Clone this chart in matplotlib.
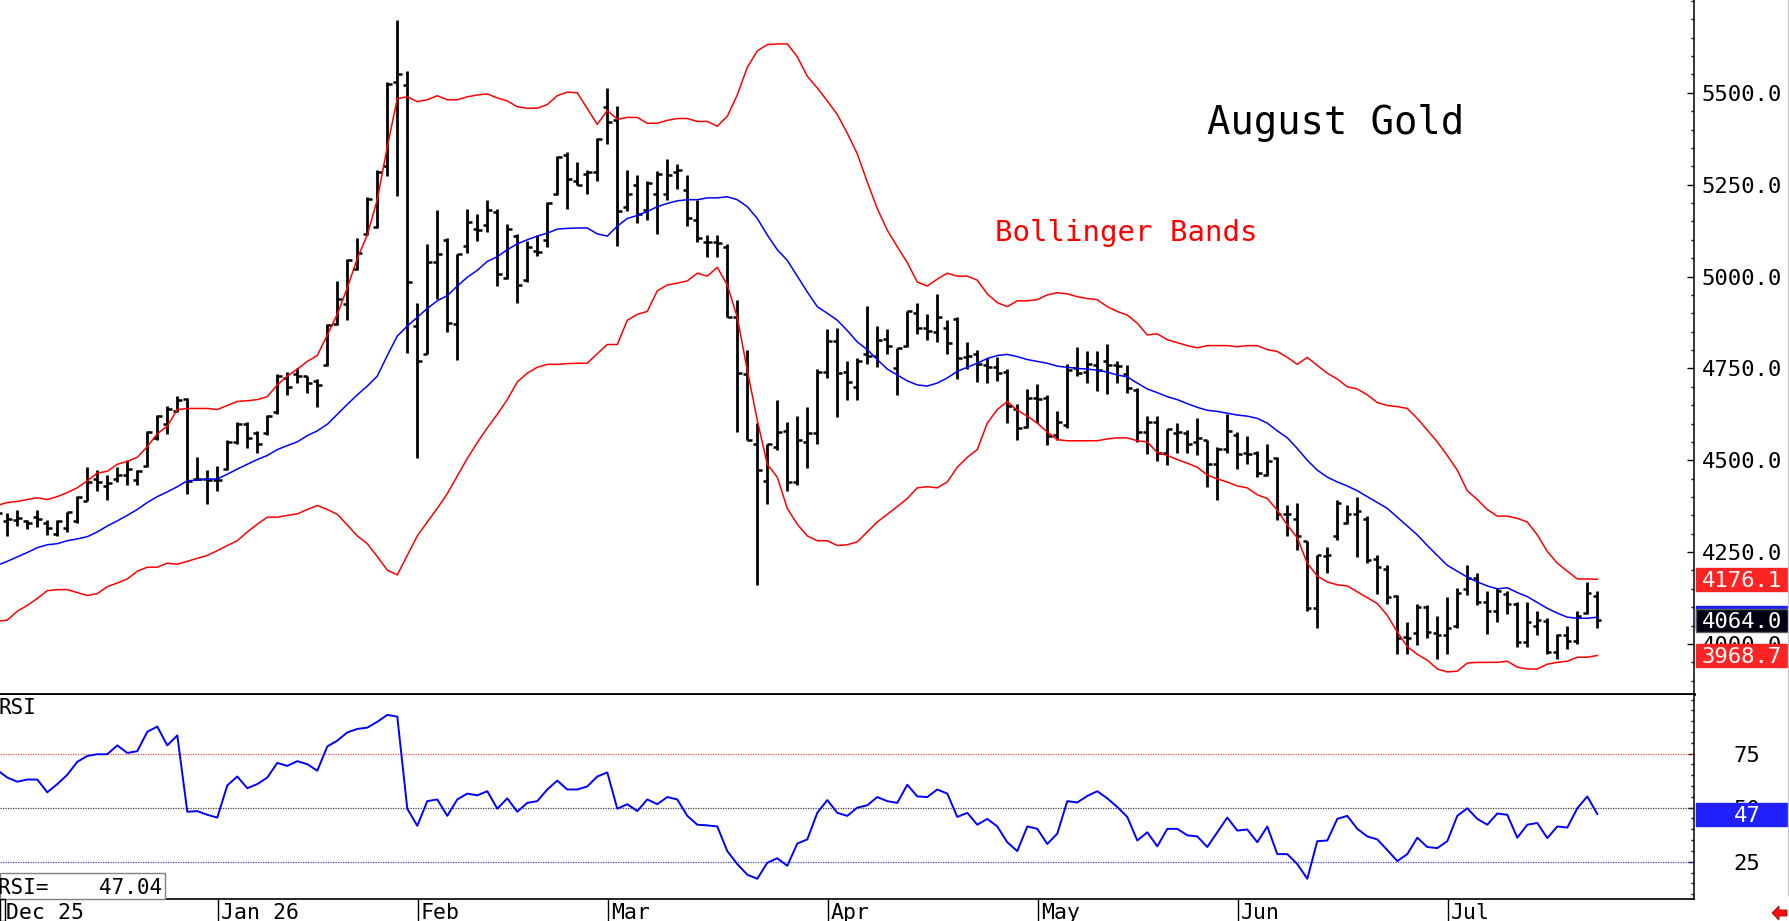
import matplotlib
matplotlib.use('Agg')
import matplotlib.pyplot as plt
from matplotlib.patches import Rectangle, Polygon
from matplotlib.lines import Line2D
from matplotlib.ticker import FixedLocator, MultipleLocator, FormatStrFormatter
from matplotlib.transforms import blended_transform_factory
import numpy as np

plt.rcParams['font.family'] = ['DejaVu Sans Mono', 'DejaVu Sans']

# daily bars, Dec 1 2025 .. late July 2026 (August gold futures)
opens = [4345, 4335, 4338, 4335, 4345, 4330, 4300, 4315, 4335, 4390,
         4450, 4430, 4450, 4460, 4445, 4485, 4560, 4600, 4634, 4668,
         4449, 4450, 4445, 4475, 4550, 4600, 4575, 4575, 4630, 4725,
         4735, 4730, 4715, 4760, 4870, 4925, 5020, 5115, 5135, 5300,
         5530, 5520, 4865, 4790, 5040, 5100, 4870, 5084, 5130, 5140,
         5175, 4995, 5110, 4990, 5070, 5100, 5225, 5330, 5260, 5280,
         5285, 5460, 5425, 5190, 5250, 5180, 5225, 5225, 5285, 5235,
         5155, 5095, 5095, 5080, 4890, 4735, 4545, 4444, 4537, 4580,
         4440, 4550, 4575, 4740, 4825, 4740, 4700, 4790, 4785, 4830,
         4750, 4810, 4900, 4860, 4850, 4860, 4885, 4780, 4790, 4760,
         4755, 4740, 4640, 4590, 4670, 4670, 4570, 4595, 4750, 4740,
         4760, 4770, 4760, 4735, 4690, 4577, 4605, 4520, 4575, 4575,
         4550, 4555, 4489, 4530, 4570, 4520, 4520, 4460, 4505, 4355,
         4340, 4280, 4097, 4240, 4295, 4330, 4355, 4340, 4230, 4205,
         4130, 4020, 4030, 4100, 4030, 4025, 4050, 4150, 4180, 4113,
         4090, 4137, 4110, 4005, 4050, 4062, 3977, 4025, 4009, 4085,
         4130]
highs = [4375, 4356, 4365, 4337, 4364, 4337, 4337, 4360, 4404, 4481,
         4473, 4460, 4481, 4500, 4473, 4580, 4623, 4649, 4676, 4670,
         4510, 4473, 4484, 4556, 4604, 4604, 4580, 4623, 4734, 4740,
         4750, 4730, 4720, 4870, 4988, 5049, 5105, 5217, 5289, 5529,
         5697, 5558, 4929, 5089, 5182, 5105, 5062, 5185, 5169, 5209,
         5185, 5142, 5116, 5097, 5113, 5204, 5329, 5340, 5313, 5289,
         5377, 5513, 5465, 5289, 5276, 5260, 5286, 5321, 5305, 5276,
         5209, 5113, 5113, 5089, 4937, 4801, 4601, 4545, 4665, 4604,
         4620, 4646, 4748, 4857, 4860, 4769, 4777, 4921, 4865, 4857,
         4806, 4905, 4929, 4897, 4953, 4881, 4889, 4822, 4801, 4777,
         4782, 4748, 4652, 4694, 4708, 4678, 4633, 4761, 4809, 4796,
         4796, 4817, 4769, 4758, 4697, 4620, 4620, 4585, 4601, 4582,
         4614, 4556, 4537, 4625, 4577, 4566, 4524, 4545, 4508, 4377,
         4385, 4281, 4241, 4265, 4393, 4377, 4401, 4348, 4241, 4214,
         4134, 4060, 4108, 4105, 4076, 4129, 4153, 4214, 4193, 4145,
         4153, 4145, 4113, 4113, 4089, 4070, 4028, 4049, 4089, 4170,
         4145]
lows = [4330, 4294, 4320, 4313, 4318, 4297, 4294, 4305, 4330, 4388,
        4417, 4393, 4441, 4433, 4433, 4481, 4556, 4572, 4630, 4409,
        4446, 4382, 4417, 4473, 4545, 4534, 4521, 4569, 4625, 4678,
        4710, 4684, 4646, 4756, 4868, 4881, 5017, 5113, 5132, 5273,
        5220, 4793, 4505, 4788, 4940, 4849, 4772, 5065, 5097, 5121,
        4974, 4993, 4929, 4985, 5057, 5081, 5222, 5185, 5249, 5225,
        5260, 5361, 5084, 5177, 5145, 5153, 5116, 5209, 5238, 5137,
        5094, 5054, 5054, 4889, 4577, 4556, 4161, 4380, 4529, 4417,
        4433, 4478, 4545, 4724, 4617, 4665, 4665, 4761, 4753, 4788,
        4678, 4809, 4844, 4828, 4822, 4790, 4721, 4748, 4713, 4710,
        4716, 4601, 4556, 4588, 4601, 4542, 4556, 4588, 4729, 4710,
        4689, 4681, 4710, 4684, 4550, 4518, 4497, 4486, 4521, 4521,
        4513, 4428, 4393, 4521, 4476, 4489, 4454, 4457, 4337, 4294,
        4257, 4089, 4044, 4193, 4284, 4326, 4236, 4220, 4137, 4108,
        3974, 3974, 3996, 4017, 3958, 3974, 4044, 4134, 4105, 4028,
        4060, 4081, 3993, 3993, 4025, 3974, 3958, 3985, 4001, 4081,
        4044]
closes = [4356, 4340, 4342, 4330, 4340, 4315, 4335, 4358, 4400, 4440,
          4440, 4438, 4460, 4475, 4470, 4578, 4620, 4640, 4665, 4444,
          4450, 4445, 4446, 4550, 4600, 4560, 4545, 4620, 4730, 4700,
          4730, 4710, 4705, 4868, 4940, 5045, 5065, 5210, 5285, 5525,
          5550, 4985, 4770, 5040, 5060, 4873, 5060, 5148, 5126, 5180,
          5008, 5130, 4977, 5080, 5068, 5200, 5325, 5265, 5250, 5285,
          5375, 5420, 5177, 5225, 5170, 5255, 5280, 5275, 5290, 5160,
          5105, 5095, 5090, 4890, 4737, 4556, 4473, 4545, 4577, 4440,
          4556, 4575, 4740, 4825, 4737, 4713, 4770, 4785, 4828, 4810,
          4805, 4905, 4860, 4852, 4890, 4820, 4777, 4785, 4761, 4755,
          4737, 4649, 4588, 4670, 4668, 4566, 4604, 4745, 4737, 4761,
          4745, 4760, 4757, 4697, 4577, 4604, 4520, 4585, 4577, 4545,
          4560, 4489, 4530, 4580, 4518, 4518, 4465, 4497, 4353, 4353,
          4295, 4097, 4241, 4241, 4385, 4353, 4361, 4229, 4209, 4129,
          4017, 4017, 4100, 4033, 4025, 4044, 4140, 4180, 4113, 4089,
          4145, 4110, 4006, 4060, 4065, 3977, 4025, 4009, 4076, 4140,
          4064.0]

# Bollinger bands as printed on the chart
upper = [4377, 4385, 4388, 4393, 4398, 4393, 4401, 4412, 4425, 4444,
         4465, 4470, 4489, 4497, 4508, 4537, 4572, 4593, 4638, 4641,
         4641, 4641, 4638, 4649, 4660, 4662, 4665, 4673, 4705, 4729,
         4748, 4769, 4785, 4841, 4897, 4969, 5049, 5113, 5209, 5353,
         5484, 5489, 5476, 5481, 5492, 5481, 5481, 5489, 5494, 5497,
         5486, 5478, 5462, 5458, 5458, 5468, 5492, 5502, 5500, 5457,
         5414, 5452, 5428, 5433, 5433, 5417, 5417, 5425, 5430, 5430,
         5422, 5422, 5409, 5436, 5494, 5569, 5614, 5631, 5633, 5633,
         5598, 5545, 5513, 5478, 5441, 5390, 5334, 5257, 5185, 5126,
         5081, 5038, 4985, 4974, 4993, 5009, 5001, 5001, 4990, 4953,
         4929, 4918, 4934, 4934, 4937, 4950, 4956, 4953, 4945, 4940,
         4937, 4918, 4905, 4895, 4873, 4841, 4844, 4828, 4820, 4812,
         4806, 4812, 4812, 4812, 4809, 4812, 4812, 4801, 4796, 4780,
         4761, 4780, 4758, 4737, 4721, 4700, 4694, 4678, 4657, 4649,
         4646, 4641, 4614, 4582, 4550, 4513, 4473, 4417, 4393, 4366,
         4348, 4348, 4342, 4332, 4297, 4252, 4220, 4198, 4177, 4177,
         4176.1]
middle = [4214, 4225, 4237, 4249, 4262, 4270, 4273, 4281, 4286, 4292,
          4305, 4321, 4335, 4350, 4366, 4385, 4401, 4414, 4428, 4444,
          4446, 4449, 4449, 4462, 4476, 4489, 4502, 4513, 4529, 4540,
          4550, 4567, 4580, 4598, 4625, 4652, 4678, 4702, 4729, 4785,
          4838, 4865, 4889, 4913, 4934, 4948, 4974, 4998, 5017, 5041,
          5054, 5073, 5089, 5100, 5110, 5118, 5129, 5131, 5132, 5132,
          5116, 5110, 5137, 5158, 5166, 5177, 5190, 5199, 5206, 5209,
          5209, 5214, 5214, 5217, 5209, 5190, 5158, 5113, 5073, 5044,
          5001, 4958, 4918, 4900, 4881, 4853, 4822, 4801, 4774, 4748,
          4732, 4716, 4705, 4702, 4710, 4724, 4742, 4753, 4764, 4777,
          4785, 4788, 4782, 4774, 4769, 4764, 4756, 4753, 4750, 4748,
          4745, 4740, 4732, 4727, 4710, 4694, 4684, 4673, 4665, 4654,
          4644, 4636, 4633, 4628, 4623, 4620, 4614, 4601, 4580, 4561,
          4532, 4500, 4473, 4454, 4441, 4430, 4417, 4401, 4385, 4369,
          4345, 4321, 4297, 4268, 4241, 4214, 4198, 4182, 4169, 4158,
          4150, 4153, 4140, 4129, 4113, 4097, 4084, 4073, 4070, 4070,
          4073]
lower = [4062, 4065, 4089, 4105, 4124, 4145, 4148, 4148, 4140, 4132,
         4137, 4156, 4166, 4177, 4198, 4209, 4209, 4220, 4217, 4225,
         4233, 4241, 4254, 4268, 4281, 4305, 4326, 4345, 4345, 4350,
         4354, 4366, 4377, 4366, 4353, 4324, 4294, 4273, 4238, 4201,
         4188, 4241, 4294, 4332, 4369, 4409, 4457, 4505, 4548, 4588,
         4625, 4665, 4713, 4737, 4753, 4761, 4761, 4763, 4764, 4764,
         4790, 4815, 4815, 4881, 4897, 4905, 4961, 4977, 4982, 4988,
         5009, 5001, 5025, 4977, 4889, 4745, 4609, 4489, 4454, 4369,
         4326, 4294, 4281, 4281, 4268, 4270, 4278, 4305, 4332, 4353,
         4374, 4396, 4425, 4428, 4425, 4441, 4481, 4508, 4529, 4601,
         4638, 4660, 4636, 4620, 4601, 4577, 4556, 4553, 4553, 4553,
         4553, 4558, 4561, 4561, 4553, 4550, 4521, 4513, 4502, 4492,
         4481, 4460, 4449, 4441, 4430, 4425, 4406, 4396, 4364, 4324,
         4289, 4220, 4185, 4169, 4161, 4158, 4142, 4126, 4110, 4078,
         4033, 3993, 3972, 3956, 3932, 3924, 3926, 3948, 3950, 3950,
         3950, 3953, 3937, 3932, 3932, 3945, 3950, 3953, 3964, 3964,
         3968.7]
rsi = [67.4, 63.9, 62.0, 63.0, 63.0, 57.1, 60.9, 65.2, 71.2, 73.9,
       74.7, 74.7, 78.8, 75.3, 76.1, 85.1, 87.5, 78.8, 83.4, 48.1,
       48.4, 46.7, 45.4, 60.3, 64.4, 59.0, 60.9, 63.9, 70.7, 69.3,
       71.5, 70.1, 67.1, 78.3, 81.0, 84.8, 86.4, 87.0, 89.7, 92.9,
       92.1, 49.5, 41.6, 53.0, 53.8, 46.2, 53.8, 56.5, 55.7, 57.6,
       49.5, 54.3, 48.1, 52.2, 53.0, 58.4, 62.5, 58.4, 58.4, 59.8,
       64.4, 66.3, 49.5, 51.6, 48.4, 53.8, 51.6, 54.9, 53.8, 46.2,
       42.1, 41.8, 41.3, 29.9, 23.9, 19.0, 17.1, 24.5, 26.6, 23.1,
       33.4, 35.3, 47.6, 53.5, 47.6, 46.2, 50.0, 51.1, 54.9, 53.0,
       52.2, 60.6, 55.2, 54.9, 58.4, 56.5, 45.7, 47.6, 42.1, 44.8,
       41.3, 34.0, 29.9, 41.3, 40.2, 33.2, 38.0, 53.0, 52.4, 55.4,
       57.6, 54.3, 50.3, 45.7, 34.8, 38.6, 32.1, 40.2, 40.2, 37.2,
       36.7, 31.8, 38.6, 45.4, 39.4, 39.9, 34.0, 41.3, 28.5, 28.5,
       23.9, 17.1, 34.5, 34.8, 44.8, 46.2, 40.2, 36.7, 35.3, 30.4,
       25.3, 28.5, 36.1, 31.8, 31.3, 34.5, 46.2, 49.7, 44.8, 42.1,
       47.3, 46.7, 36.1, 42.1, 42.9, 35.9, 41.3, 40.8, 49.7, 55.2,
       47.04]

month_labels = ['Dec 25', 'Jan 26', 'Feb', 'Mar', 'Apr', 'May', 'Jun', 'Jul']
month_start = [0, 22, 42, 61, 83, 104, 124, 145]

price_ticks = [4000, 4250, 4500, 4750, 5000, 5250, 5500]
rsi_levels = [25, 50, 75]

W, H = 1790, 921
R = 1694  # right spine in pixels

fig = plt.figure(figsize=(W / 100, H / 100), dpi=100)


def px_axes(x0, y0, x1, y1):
    return fig.add_axes([x0 / W, 1 - y1 / H, (x1 - x0) / W, (y1 - y0) / H])


ax = px_axes(0, 0, R, 694)
ax2 = px_axes(0, 695, R, 899)
ax3 = px_axes(0, 899, R, 921)

x = np.arange(len(closes))
xlim = (0.27, 169.67)

# ---- price panel
ax.vlines(x, lows, highs, color='black', lw=2.0)
ax.hlines(opens, x - 0.42, x, color='black', lw=1.8)
ax.hlines(closes, x, x + 0.42, color='black', lw=1.8)
ax.plot(x, upper, color='#ff0000', lw=1.1)
ax.plot(x, lower, color='#ff0000', lw=1.1)
ax.plot(x, middle, color='#0000ff', lw=1.1)

ax.set_xlim(*xlim)
ax.set_ylim(3863.9, 5752.5)
ax.set_xticks([])
ax.yaxis.tick_right()
ax.yaxis.set_major_locator(FixedLocator(price_ticks))
ax.yaxis.set_minor_locator(MultipleLocator(50))
ax.yaxis.set_major_formatter(FormatStrFormatter('%.1f'))
ax.tick_params(axis='y', which='major', direction='in', length=5, width=1, pad=34.5, labelsize=16)
ax.tick_params(axis='y', which='minor', direction='in', length=2.5, width=1)
for lab in ax.get_yticklabels():
    lab.set_horizontalalignment('center')
for s in ['top', 'left']:
    ax.spines[s].set_visible(False)
ax.spines['bottom'].set_linewidth(2)
ax.spines['right'].set_linewidth(1.1)

ax.text(1207 / R, (694 - 134) / 694, 'August Gold', transform=ax.transAxes,
        fontsize=28, color='black', va='baseline', ha='left')
ax.text(995 / R, (694 - 241) / 694, 'Bollinger Bands', transform=ax.transAxes,
        fontsize=21, color='#ff0000', va='baseline', ha='left')


def value_box(axis, y, text, face, per_px, cx, edge=None, z=6):
    tr = blended_transform_factory(axis.transAxes, axis.transData)
    h = 23 * per_px
    axis.add_patch(Rectangle((1696 / R, y - h / 2), 93 / R, h, transform=tr,
                             facecolor=face, edgecolor=edge or face, lw=1,
                             clip_on=False, zorder=z))
    axis.text(cx / R, y, text, transform=tr, ha='center', va='center_baseline',
              color='white', fontsize=16, zorder=z + 0.5, clip_on=False)


pp = (5752.5 - 3863.9) / 694
value_box(ax, middle[-1], f'{middle[-1]:.1f}', '#2020ff', pp, 1742, z=6)
value_box(ax, closes[-1], f'{closes[-1]:.1f}', '#000010', pp, 1742, edge='#606060', z=7)
value_box(ax, upper[-1], f'{upper[-1]:.1f}', '#ff2424', pp, 1742, z=8)
value_box(ax, lower[-1], f'{lower[-1]:.1f}', '#ff2424', pp, 1742, z=8)

# ---- RSI panel
ax2.axhline(75, color='#ff5050', lw=0.9, ls=(0, (1, 1)))
ax2.axhline(50, color='#404040', lw=0.9, ls=(0, (1, 1)))
ax2.axhline(25, color='#4040ff', lw=0.9, ls=(0, (1, 1)))
ax2.plot(x, rsi, color='#0000ff', lw=1.4)
ax2.set_xlim(*xlim)
ax2.set_ylim(7.75, 102.1)
ax2.set_xticks([])
ax2.yaxis.tick_right()
ax2.yaxis.set_major_locator(FixedLocator(rsi_levels))
ax2.yaxis.set_minor_locator(MultipleLocator(5))
ax2.tick_params(axis='y', which='major', direction='in', length=4.5, width=1, pad=38, labelsize=16)
ax2.tick_params(axis='y', which='minor', direction='in', length=2.5, width=1)
for lab in ax2.get_yticklabels():
    lab.set_horizontalalignment('center')
for s in ['top', 'left']:
    ax2.spines[s].set_visible(False)
ax2.spines['bottom'].set_linewidth(1.2)
ax2.spines['right'].set_linewidth(1.1)

ax2.text(-0.001, 0.985, 'RSI', transform=ax2.transAxes, fontsize=15, va='top', ha='left')
ax2.add_patch(Rectangle((0, 0), 165 / R, 26 / 204, transform=ax2.transAxes,
                        facecolor='white', edgecolor='#808080', lw=1, zorder=5, clip_on=False))
ax2.text(-0.001, 13 / 204, f'RSI=    {rsi[-1]:.2f}', transform=ax2.transAxes,
         fontsize=15, va='center_baseline', ha='left', zorder=6)
value_box(ax2, rsi[-1], f'{rsi[-1]:.0f}', '#2020ff', (102.1 - 7.75) / 204, 1747, z=6)

# ---- date strip
ax3.set_xlim(*xlim)
ax3.set_ylim(0, 1)
ax3.axis('off')
for pos, lab in zip(month_start, month_labels):
    ax3.axvline(pos + 0.1, color='black', lw=1)
    ax3.text(pos + 0.35 if pos > 0 else 0.9, 0.09, lab, fontsize=15.5, va='baseline', ha='left')
ax3.add_patch(Rectangle((0.27, 0.0), 0.5, 1.0, facecolor='none', edgecolor='black', lw=1, clip_on=False))

# right border and the little red arrow
fig.add_artist(Line2D([1788.5 / W, 1788.5 / W], [1 - 895 / H, 1], color='#c8c8c8', lw=1))
arrow = np.array([[1772, 913], [1779, 906], [1779, 910], [1787, 910],
                  [1787, 916], [1779, 916], [1779, 920]], dtype=float)
arrow[:, 0] /= W
arrow[:, 1] = 1 - arrow[:, 1] / H
fig.add_artist(Polygon(arrow, closed=True, facecolor='#ff1010', edgecolor='#a00000', lw=0.6,
                       transform=fig.transFigure))

fig.savefig('out.png', dpi=100)
